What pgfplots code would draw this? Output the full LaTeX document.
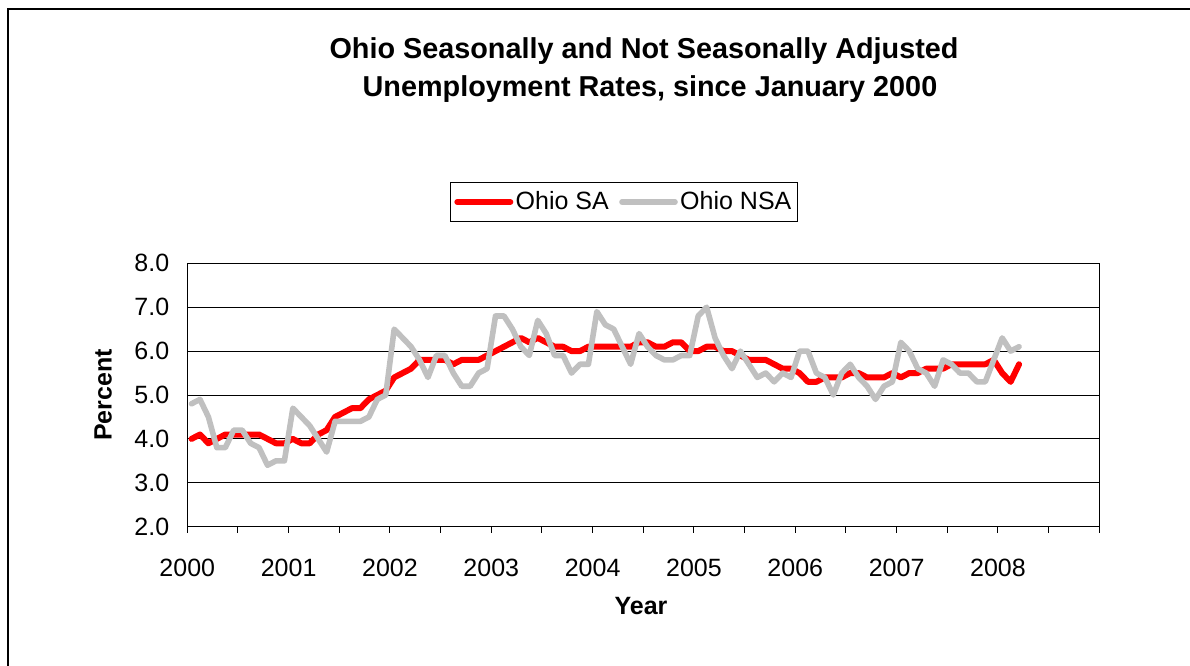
\documentclass[border=0pt]{standalone}
\usepackage{pgfplots}
\usepackage{pgfplotstable}
\pgfplotsset{compat=1.18}
\usepackage{fontspec}
\setmainfont{Liberation Sans}
\definecolor{nsagray}{RGB}{192,192,192}
\pgfplotstableread{
i sa nsa
0 4.0 4.8
1 4.1 4.9
2 3.9 4.5
3 4.0 3.8
4 4.1 3.8
5 4.1 4.2
6 4.1 4.2
7 4.1 3.9
8 4.1 3.8
9 4.0 3.4
10 3.9 3.5
11 3.9 3.5
12 4.0 4.7
13 3.9 4.5
14 3.9 4.3
15 4.1 4.0
16 4.2 3.7
17 4.5 4.4
18 4.6 4.4
19 4.7 4.4
20 4.7 4.4
21 4.9 4.5
22 5.0 4.9
23 5.1 5.0
24 5.4 6.5
25 5.5 6.3
26 5.6 6.1
27 5.8 5.8
28 5.8 5.4
29 5.8 5.9
30 5.8 5.9
31 5.7 5.5
32 5.8 5.2
33 5.8 5.2
34 5.8 5.5
35 5.9 5.6
36 6.0 6.8
37 6.1 6.8
38 6.2 6.5
39 6.3 6.1
40 6.2 5.9
41 6.3 6.7
42 6.2 6.4
43 6.1 5.9
44 6.1 5.9
45 6.0 5.5
46 6.0 5.7
47 6.1 5.7
48 6.1 6.9
49 6.1 6.6
50 6.1 6.5
51 6.1 6.1
52 6.1 5.7
53 6.2 6.4
54 6.2 6.1
55 6.1 5.9
56 6.1 5.8
57 6.2 5.8
58 6.2 5.9
59 6.0 5.9
60 6.0 6.8
61 6.1 7.0
62 6.1 6.3
63 6.0 5.9
64 6.0 5.6
65 5.9 6.0
66 5.8 5.7
67 5.8 5.4
68 5.8 5.5
69 5.7 5.3
70 5.6 5.5
71 5.6 5.4
72 5.5 6.0
73 5.3 6.0
74 5.3 5.5
75 5.4 5.4
76 5.4 5.0
77 5.4 5.5
78 5.5 5.7
79 5.5 5.4
80 5.4 5.2
81 5.4 4.9
82 5.4 5.2
83 5.5 5.3
84 5.4 6.2
85 5.5 6.0
86 5.5 5.6
87 5.6 5.5
88 5.6 5.2
89 5.6 5.8
90 5.7 5.7
91 5.7 5.5
92 5.7 5.5
93 5.7 5.3
94 5.7 5.3
95 5.8 5.8
96 5.5 6.3
97 5.3 6.0
98 5.7 6.1
}\ohiodata
\begin{document}
\begin{tikzpicture}
\useasboundingbox (0,0) rectangle (595pt,332.5pt);
\draw[line width=0.6pt] (4pt,-1pt) -- (4pt,328pt) -- (600pt,328pt);
\node[font=\fontsize{14.4}{17}\selectfont\bfseries] at (322pt,307pt) {Ohio Seasonally and Not Seasonally Adjusted};
\node[font=\fontsize{14.4}{17}\selectfont\bfseries] at (325pt,288pt) {Unemployment Rates, since January 2000};
\begin{axis}[
  at={(93.65pt,69.15pt)}, anchor=south west,
  scale only axis, width=456pt, height=131.7pt,
  xmin=-0.5, xmax=107.5, ymin=2, ymax=8,
  ytick={2,3,4,5,6,7,8},
  xtick={-0.5,11.5,23.5,35.5,47.5,59.5,71.5,83.5,95.5,107.5},
  xticklabels={2000,2001,2002,2003,2004,2005,2006,2007,2008,},
  minor xtick={5.5,17.5,29.5,41.5,53.5,65.5,77.5,89.5,101.5},
  xtick pos=bottom, ytick pos=left,
  xtick align=outside,
  major tick length=3pt, minor tick length=3pt,
  ytick style={draw=none},
  every tick/.style={black, line width=0.5pt},
  minor tick style={black, line width=0.5pt},
  ymajorgrids, grid style={black, line width=0.5pt},
  axis line style={black, line width=0.6pt},
  /pgf/number format/assume math mode=true,
  ticklabel style={font=\fontsize{12.5}{15}\selectfont},
  yticklabel style={/pgf/number format/fixed, /pgf/number format/fixed zerofill, /pgf/number format/precision=1, xshift=-5.5pt},
  xticklabel style={yshift=-9.5pt},
  every axis y label/.style={at={(axis description cs:-0.0924,0.5)}, rotate=90, anchor=center, font=\fontsize{12.5}{15}\selectfont\bfseries},
  every axis x label/.style={at={(axis description cs:0.4975,-0.302)}, anchor=center, font=\fontsize{12.5}{15}\selectfont\bfseries},
  ylabel={Percent}, xlabel={Year},
  legend columns=2,
  legend image code/.code={\draw[#1] (0pt,0pt) -- (26.5pt,0pt);},
  legend style={at={(axis description cs:0.4789,1.2327)}, anchor=center, draw=black, line width=0.5pt, fill=white,
    font=\fontsize{12.5}{15}\selectfont, inner xsep=2pt, inner ysep=2.5pt,
    /tikz/every even column/.append style={column sep=4pt},
    nodes={inner xsep=1.2pt}},
  legend cell align=left,
]
\addplot[red, line width=3pt, line join=round, line cap=round] table[x=i, y=sa] {\ohiodata};
\addlegendentry{Ohio SA}
\addplot[nsagray, line width=2.8pt, line join=round, line cap=round] table[x=i, y=nsa] {\ohiodata};
\addlegendentry{Ohio NSA}
\end{axis}
\end{tikzpicture}
\end{document}
